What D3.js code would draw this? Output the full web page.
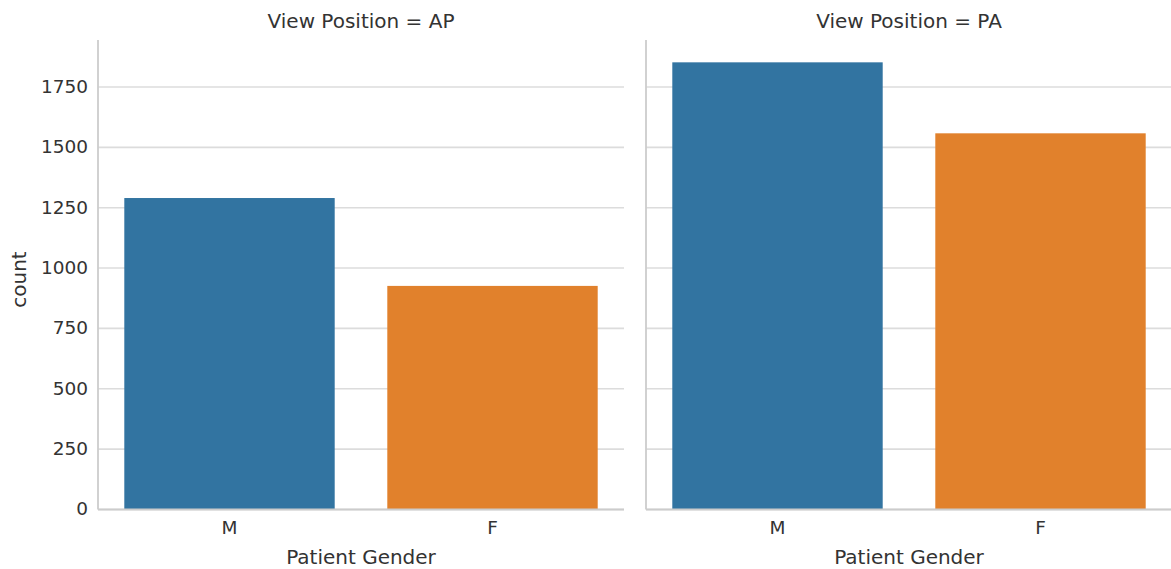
<!DOCTYPE html>
<html>
<head>
<meta charset="utf-8">
<script src="https://cdn.jsdelivr.net/npm/d3@7"></script>
<style>
  html, body { margin: 0; padding: 0; background: #fff; }
  text { font-family: "DejaVu Sans", sans-serif; }
</style>
</head>
<body>
<svg id="chart" width="1171" height="569"></svg>
<script>
// Data
const panels = ["AP", "PA"];
const categories = ["M", "F"];
const countsAP = [1288, 924];
const countsPA = [1850, 1556];
const yTicks = [0, 250, 500, 750, 1000, 1250, 1500, 1750];
const colors = ["#3274a1", "#e1812c"];

const seriesByPanel = { AP: countsAP, PA: countsPA };

(function () {
const svg = d3.select("#chart");
const plotTop = 40, plotBottom = 509;
const panelX = [[98, 624], [646, 1172]];

const yMax = d3.max([...countsAP, ...countsPA]) * 1.05;
const y = d3.scaleLinear().domain([0, yMax]).range([plotBottom, plotTop]);

panels.forEach((p, i) => {
  const [x0, x1] = panelX[i];
  const x = d3.scaleBand().domain(categories).range([x0, x1]).paddingInner(0.2).paddingOuter(0.1);
  const g = svg.append("g");

  // grid
  const grid = g.append("g")
    .attr("transform", `translate(${x0},0)`)
    .call(d3.axisLeft(y).tickValues(yTicks).tickSize(-(x1 - x0)).tickFormat(""));
  grid.select(".domain").remove();
  grid.selectAll(".tick line").attr("stroke", "#dcdcdc").attr("stroke-width", 1.6);

  // bars
  g.selectAll("rect.bar")
    .data(categories.map((c, j) => ({ c, v: seriesByPanel[p][j], color: colors[j] })))
    .join("rect")
    .attr("class", "bar")
    .attr("x", d => x(d.c))
    .attr("width", x.bandwidth())
    .attr("y", d => y(d.v))
    .attr("height", d => y(0) - y(d.v))
    .attr("fill", d => d.color);

  // spines
  g.append("line").attr("x1", x0).attr("x2", x0).attr("y1", plotTop).attr("y2", plotBottom + 0.5)
    .attr("stroke", "#cccccc").attr("stroke-width", 1.8);
  g.append("line").attr("x1", x0).attr("x2", x1).attr("y1", plotBottom + 0.5).attr("y2", plotBottom + 0.5)
    .attr("stroke", "#cccccc").attr("stroke-width", 1.8);

  // y tick labels (only left panel)
  if (i === 0) {
    const ya = g.append("g")
      .attr("transform", `translate(${x0},0)`)
      .call(d3.axisLeft(y).tickValues(yTicks).tickSize(0).tickPadding(10).tickFormat(d3.format("d")));
    ya.select(".domain").remove();
    ya.selectAll("text").attr("fill", "#333").attr("font-size", 18.5)
      .attr("font-family", "DejaVu Sans, sans-serif");
    g.append("text")
      .attr("transform", `translate(26,${(plotTop + plotBottom) / 2 + 5}) rotate(-90)`)
      .attr("text-anchor", "middle")
      .attr("font-size", 20).attr("fill", "#333")
      .text("count");
  }

  // x axis
  const xa = g.append("g")
    .attr("transform", `translate(0,${plotBottom})`)
    .call(d3.axisBottom(x).tickSize(0).tickPadding(12));
  xa.select(".domain").remove();
  xa.selectAll("text").attr("fill", "#333").attr("font-size", 18.5)
    .attr("font-family", "DejaVu Sans, sans-serif");

  g.append("text")
    .attr("x", (x0 + x1) / 2).attr("y", 564)
    .attr("text-anchor", "middle").attr("font-size", 20).attr("fill", "#333")
    .text("Patient Gender");

  g.append("text")
    .attr("x", (x0 + x1) / 2).attr("y", 28)
    .attr("text-anchor", "middle").attr("font-size", 20).attr("fill", "#333")
    .text("View Position = " + p);
});
})();
</script>
</body>
</html>
